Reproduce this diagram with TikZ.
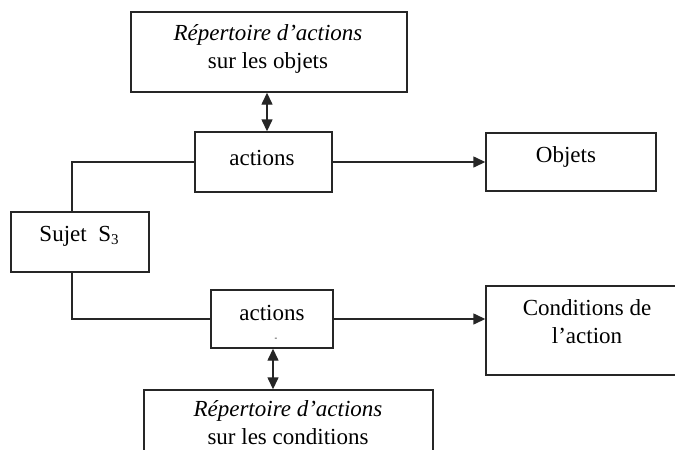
\documentclass[tikz,border=0pt]{standalone}
\usepackage{fontspec}
\setmainfont{Liberation Serif}
\usetikzlibrary{arrows.meta,calc}
\begin{document}
\begin{tikzpicture}[x=1pt,y=-1pt,
  box/.style={draw=black!85,line width=1.4pt,rectangle,inner sep=0pt},
  txt/.style={inner sep=0pt,align=center,font=\fontsize{23}{28}\selectfont},
  conn/.style={draw=black!85,line width=1.4pt},
  arr/.style={conn,-{Triangle[length=12pt,width=11pt]}},
  darr/.style={conn,{Triangle[length=12pt,width=11pt]}-{Triangle[length=12pt,width=11pt]}}]
\useasboundingbox (0,0) rectangle (675,450);
\clip (0,0) rectangle (675,450);
\fill[white] (0,0) rectangle (675,450);
% boxes
\node[box,minimum width=276pt,minimum height=80pt] (rep1) at (269,52) {};
\node[box,minimum width=137pt,minimum height=60pt] (act1) at (263.5,162) {};
\node[box,minimum width=170pt,minimum height=58pt] (obj) at (571,162) {};
\node[box,minimum width=138pt,minimum height=60pt] (suj) at (80,242) {};
\node[box,minimum width=122pt,minimum height=58pt] (act2) at (272,319) {};
\node[box,minimum width=210pt,minimum height=89pt] (cond) at (591,330.5) {};
\node[box,minimum width=289pt,minimum height=100pt] (rep2) at (288.5,440) {};
% texts
\node[txt] (t1) at (268,49) {\textit{Répertoire d’actions}\\sur les objets};
\node[txt] (t2) at (262,158) {actions};
\node[txt] (t3) at (566,157) {Objets};
\node[txt] (t4) at (79,236) {Sujet\enspace S\raisebox{-0.35ex}{\fontsize{15}{15}\selectfont 3}};
\node[txt] (t5) at (272,313) {actions};
\node[inner sep=0pt,font=\fontsize{8}{8}\selectfont] (t6) at (276,339) {-};
\node[txt] (t7) at (587,322) {Conditions de\\l’action};
\node[txt] (t8) at (288,423) {\textit{Répertoire d’actions}\\sur les conditions};
% connectors
\coordinate (c1) at (72,162);
\coordinate (c2) at (72,319);
\draw[conn] (act1.west) -- (c1) -- (c1 |- suj.north);
\draw[conn] (c2 |- suj.south) -- (c2) -- (c2 -| act2.west);
\draw[arr] (act1.east) -- (obj.west);
\draw[arr] (c2 -| act2.east) -- (c2 -| cond.west);
\coordinate (d1) at (267,0);
\coordinate (d2) at (273,0);
\draw[darr] (d1 |- rep1.south) -- (d1 |- act1.north);
\draw[darr] (d2 |- act2.south) -- (d2 |- rep2.north);
\end{tikzpicture}
\end{document}
